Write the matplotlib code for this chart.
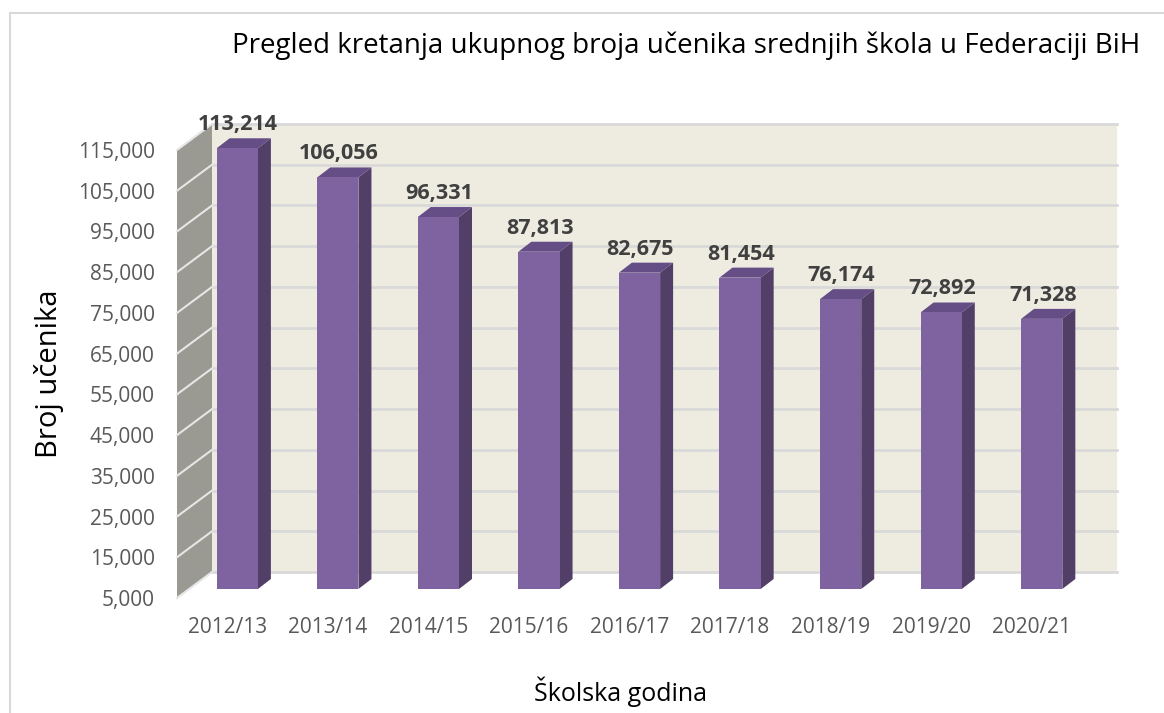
import matplotlib.pyplot as plt
import matplotlib.patches as mpatches
import matplotlib.transforms as mtransforms
from matplotlib.lines import Line2D


years = ["2012/13", "2013/14", "2014/15", "2015/16", "2016/17",
         "2017/18", "2018/19", "2019/20", "2020/21"]
students = [113214, 106056, 96331, 87813, 82675, 81454, 76174, 72892, 71328]
y_ticks = list(range(5000, 115001, 10000))

plt.rcParams['font.family'] = ['Open Sans', 'DejaVu Sans']

W, H = 1164, 713
fig = plt.figure(figsize=(W / 100, H / 100), dpi=100)

# front plane of the 3D box
ax = fig.add_axes([177 / W, 115 / H, 905 / W, 448 / H])
ax.set_xlim(-0.5, len(years) - 0.5)
ax.set_ylim(5000, 115000)
ax.patch.set_visible(False)
for s in ax.spines.values():
    s.set_visible(False)

ident = mtransforms.IdentityTransform()


def px(x, v, dx=0, dy=0):
    X, Y = ax.transData.transform((x, v))
    return (X + dx, Y + dy)


def poly(pts, color, z):
    ax.add_patch(mpatches.Polygon(pts, closed=True, transform=ident,
                                  facecolor=color, edgecolor="none",
                                  zorder=z, clip_on=False))


def seg(a, b, color, lw, z):
    ax.add_line(Line2D([a[0], b[0]], [a[1], b[1]], transform=ident,
                       color=color, lw=lw, zorder=z, clip_on=False))


wdx, wdy = 35, 26
x0, x1 = ax.get_xlim()
v0, v1 = ax.get_ylim()

# back wall
poly([px(x0, v0, wdx, wdy), px(x1, v0, wdx, wdy),
      px(x1, v1, wdx, wdy), px(x0, v1, wdx, wdy)], "#eeece1", 0)
for t in y_ticks:
    seg(px(x0, t, wdx, wdy), px(x1, t, wdx, wdy), "#d9d9d9", 2.0, 1)

# side wall
poly([px(x0, v0), px(x0, v1), px(x0, v1, wdx, wdy), px(x0, v0, wdx, wdy)],
     "#9a9a92", 2)
for t in y_ticks:
    seg(px(x0, t), px(x0, t, wdx, wdy), "#e6e6e6", 1.5, 3)

# bars
bw = 0.41
fdx, fdy = 10, 9
ddx, ddy = 13, 10
for i, v in enumerate(students):
    l, r = i - bw / 2, i + bw / 2
    poly([px(r, v0, fdx, fdy), px(r, v0, fdx + ddx, fdy + ddy),
          px(r, v, fdx + ddx, fdy + ddy), px(r, v, fdx, fdy)], "#513f68", 4)
    poly([px(l, v, fdx, fdy), px(r, v, fdx, fdy),
          px(r, v, fdx + ddx, fdy + ddy), px(l, v, fdx + ddx, fdy + ddy)],
         "#654d86", 4)
    poly([px(l, v0, fdx, fdy), px(r, v0, fdx, fdy),
          px(r, v, fdx, fdy), px(l, v, fdx, fdy)], "#7f63a1", 5)
    lab_tr = ax.transData + mtransforms.ScaledTranslation(
        (fdx + 1) / 100, (fdy + 18) / 100, fig.dpi_scale_trans)
    ax.text(i, v, f"{v:,}", transform=lab_tr, ha="center", va="baseline",
            fontsize=15.5, fontweight="bold", color="#404040", zorder=6)

ax.set_xticks(range(len(years)), labels=years)
ax.set_yticks(y_ticks, labels=[f"{t:,}" for t in y_ticks])
ax.tick_params(axis="both", length=0, labelsize=15, labelcolor="#595959")
ax.tick_params(axis="y", pad=16)
ax.tick_params(axis="x", pad=14)

ax.set_ylabel("Broj učenika", fontsize=21, color="#000000", labelpad=10)
ax.set_xlabel("Školska godina", fontsize=18, color="#000000")
ax.xaxis.set_label_coords(0.49, -0.175)

fig.text(686 / W, 1 - 46 / H,
         "Pregled kretanja ukupnog broja učenika srednjih škola u Federaciji BiH",
         ha="center", va="center", fontsize=20, color="#000000")

# outer chart frame
fig.patches.append(mpatches.Rectangle((9.5 / W, -0.1), 1.2, (H - 13.5) / H + 0.1,
                                      transform=fig.transFigure, fill=False,
                                      edgecolor="#d9d9d9", lw=1.5))

fig.savefig("out.png", dpi=100)
